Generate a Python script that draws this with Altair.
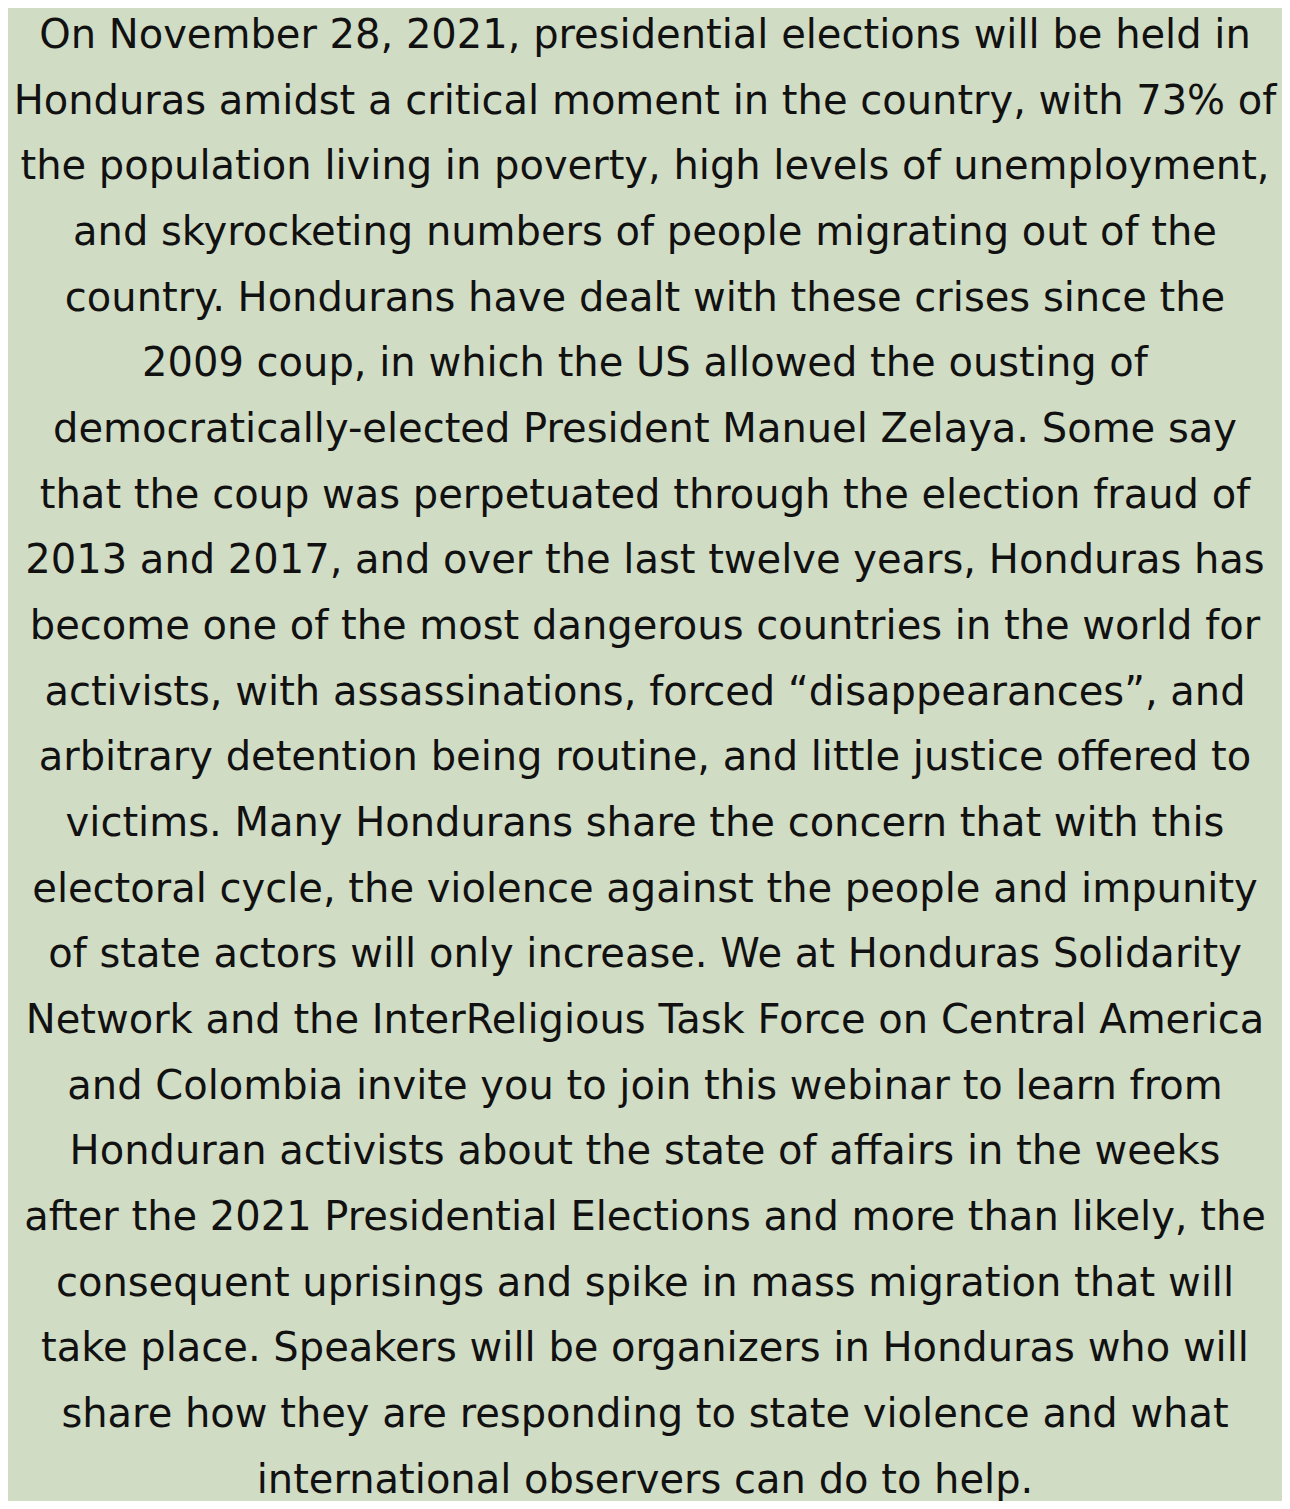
import altair as alt
import pandas as pd

lines = [
    "On November 28, 2021, presidential elections will be held in",
    "Honduras amidst a critical moment in the country, with 73% of",
    "the population living in poverty, high levels of unemployment,",
    "and skyrocketing numbers of people migrating out of the",
    "country. Hondurans have dealt with these crises since the",
    "2009 coup, in which the US allowed the ousting of",
    "democratically-elected President Manuel Zelaya. Some say",
    "that the coup was perpetuated through the election fraud of",
    "2013 and 2017, and over the last twelve years, Honduras has",
    "become one of the most dangerous countries in the world for",
    "activists, with assassinations, forced \u201cdisappearances\u201d, and",
    "arbitrary detention being routine, and little justice offered to",
    "victims. Many Hondurans share the concern that with this",
    "electoral cycle, the violence against the people and impunity",
    "of state actors will only increase. We at Honduras Solidarity",
    "Network and the InterReligious Task Force on Central America",
    "and Colombia invite you to join this webinar to learn from",
    "Honduran activists about the state of affairs in the weeks",
    "after the 2021 Presidential Elections and more than likely, the",
    "consequent uprisings and spike in mass migration that will",
    "take place. Speakers will be organizers in Honduras who will",
    "share how they are responding to state violence and what",
    "international observers can do to help.",
]

df = pd.DataFrame({"line": list(range(len(lines))), "text": lines})

W, H = 1274, 1493
step = 65.9
top = 28.0

chart = (
    alt.Chart(df)
    .mark_text(font="DejaVu Sans", fontSize=40, color="#111111", align="center", baseline="middle")
    .encode(
        x=alt.value(W / 2),
        y=alt.Y("line:Q", axis=None,
                scale=alt.Scale(domain=[-top / step, (H - top) / step], reverse=True, nice=False, zero=False)),
        text="text:N",
    )
    .properties(
        width=W, height=H, background="#D1DCC5", padding=0,
        autosize=alt.AutoSizeParams(type="fit", contains="padding"),
    )
    .configure_view(stroke=None, fill="#D1DCC5")
)

chart.save("out.html", embed_options={"renderer": "svg", "actions": False})
